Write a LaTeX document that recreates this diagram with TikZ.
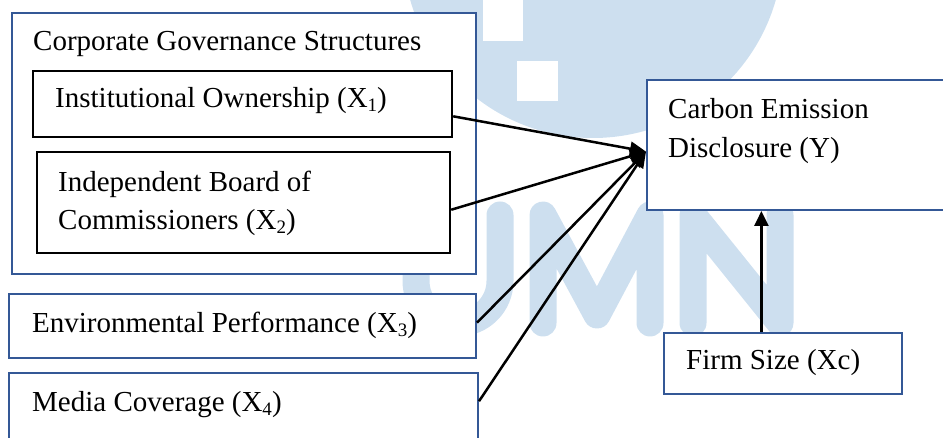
\documentclass[tikz,border=0pt]{standalone}
\usepackage{fontspec}
\setmainfont{Liberation Serif}
\usetikzlibrary{arrows.meta,calc}
\definecolor{boxblue}{RGB}{52,88,150}
\definecolor{wm}{RGB}{205,223,239}
\newcommand{\mysub}[1]{\raisebox{-4pt}{\fontsize{19}{19}\selectfont #1}}
\begin{document}
\begin{tikzpicture}[x=1pt,y=-1pt,
  bluebox/.style={draw=boxblue,line width=2pt,fill=white,rectangle,inner sep=0pt},
  blackbox/.style={draw=black,line width=2.4pt,fill=white,rectangle,inner sep=0pt},
  lbl/.style={anchor=base west,inner sep=0pt,font=\fontsize{29}{39}\selectfont},
  conn/.style={line width=2.5pt,-{Triangle[length=16pt,width=14pt]}},
  wmstroke/.style={draw=wm,line width=27pt,line cap=round,line join=round}]
\useasboundingbox (0,0) rectangle (943,438);
% watermark
\begin{scope}
\clip (0,0) rectangle (943,438);
\fill[wm] (593,-52) circle[radius=190];
\fill[white] (483,-5) rectangle (523,41);
\fill[white] (517,61) rectangle (558,101);
\draw[wmstroke] (416,215) -- (416,281) arc[start angle=180,end angle=0,radius=42] -- (500,215);
\draw[wmstroke] (543,323) -- (543,215) -- (597,315) -- (650,215) -- (650,323);
\draw[wmstroke] (693,323) -- (693,215) -- (780,323) -- (780,215);
\end{scope}
% boxes
\node[bluebox,minimum width=464pt,minimum height=261pt] (cg) at (244,143.5) {};
\node[blackbox,minimum width=419pt,minimum height=66pt] (x1) at (242.5,104) {};
\node[blackbox,minimum width=413pt,minimum height=101pt] (x2) at (243.5,202.5) {};
\node[bluebox,minimum width=467pt,minimum height=64pt] (x3) at (242.5,326) {};
\node[bluebox,minimum width=469pt,minimum height=77pt] (x4) at (243.5,411.5) {};
\node[bluebox,minimum width=308pt,minimum height=130pt] (ybox) at (801,145) {};
\node[bluebox,minimum width=238pt,minimum height=61pt] (fs) at (783,363.5) {};
% texts
\node[lbl] (tcg) at (33,51) {Corporate Governance Structures};
\node[lbl] (tx1) at (55,108) {Institutional Ownership (X\mysub{1})};
\node[lbl] (tx2a) at (58,192) {Independent Board of};
\node[lbl] (tx2b) at (58,230) {Commissioners (X\mysub{2})};
\node[lbl] (tx3) at (32,333) {Environmental Performance (X\mysub{3})};
\node[lbl] (tx4) at (32,411) {Media Coverage (X\mysub{4})};
\node[lbl] (tya) at (668,119) {Carbon Emission};
\node[lbl] (tyb) at (668,158) {Disclosure (Y)};
\node[lbl] (tfs) at (686,370) {Firm Size (Xc)};
% connectors
\coordinate (conv) at ($(ybox.north west)!0.55!(ybox.south west)$);
\coordinate (s1) at ($(x1.north east)!0.68!(x1.south east)$);
\coordinate (s2) at ($(x2.north east)!0.57!(x2.south east)$);
\coordinate (s3) at ($(x3.north east)!0.45!(x3.south east)$);
\coordinate (s4) at ($(x4.north east)!0.37!(x4.south east)$);
\draw[conn] (s1) -- (conv);
\draw[conn] (s2) -- (conv);
\draw[conn] (s3) -- (conv);
\draw[conn] (s4) -- (conv);
\coordinate (fstop) at ($(fs.north west)!0.41!(fs.north east)$);
\draw[conn,-{Triangle[length=15pt,width=14pt]}] (fstop) -- (fstop |- ybox.south);
\end{tikzpicture}
\end{document}
